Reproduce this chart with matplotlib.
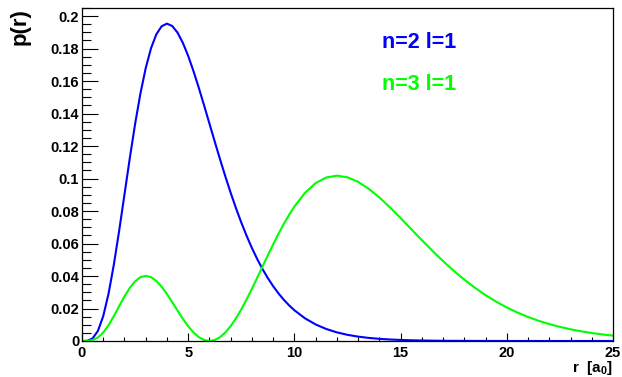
import numpy as np
import matplotlib
matplotlib.use("Agg")
import matplotlib.pyplot as plt
from matplotlib.ticker import MultipleLocator

plt.rcParams['font.family'] = ['Liberation Sans', 'DejaVu Sans']
plt.rcParams['font.weight'] = 'bold'
plt.rcParams['mathtext.fontset'] = 'custom'
plt.rcParams['mathtext.rm'] = 'Liberation Sans:bold'
plt.rcParams['mathtext.bf'] = 'Liberation Sans:bold'

# radius in units of a0 (finer steps where the curves bend most)
r = [0.0, 0.25, 0.5, 0.75, 1.0, 1.25, 1.5, 1.75, 2.0, 2.25, 2.5, 2.75, 3.0, 3.25,
     3.5, 3.75, 4.0, 4.25, 4.5, 4.75, 5.0, 5.25, 5.5, 5.75, 6.0, 6.25, 6.5, 6.75,
     7.0, 7.25, 7.5, 7.75, 8.0, 8.25, 8.5, 8.75, 9.0, 9.25, 9.5, 9.75, 10.0,
     10.5, 11.0, 11.5, 12.0, 12.5, 13.0, 13.5, 14.0, 14.5, 15.0, 15.5, 16.0, 16.5,
     17.0, 17.5, 18.0, 18.5, 19.0, 19.5, 20.0, 20.5, 21.0, 21.5, 22.0, 22.5, 23.0,
     23.5, 24.0, 24.5, 25.0]

p_21 = [0.0, 0.00013, 0.00158, 0.00623, 0.01533, 0.02914, 0.04707, 0.06791, 0.09022,
        0.11255, 0.13360, 0.15234, 0.16803, 0.18025, 0.18881, 0.19378, 0.19537,
        0.19390, 0.18981, 0.18351, 0.17547, 0.16610, 0.15582, 0.14497, 0.13385,
        0.12274, 0.11182, 0.10128, 0.09123, 0.08175, 0.07292, 0.06475, 0.05725,
        0.05043, 0.04426, 0.03870, 0.03374, 0.02932, 0.02540, 0.02195, 0.01892,
        0.01395, 0.01019, 0.00738, 0.00531, 0.00379, 0.00269, 0.00190, 0.00133,
        0.00093, 0.00065, 0.00045, 0.00031, 0.00021, 0.00014, 0.00010, 0.00007,
        0.00005, 0.00003, 0.00002, 0.00001, 0.00001, 0.00001, 0.0, 0.0, 0.0, 0.0,
        0.0, 0.0, 0.0, 0.0]

p_31 = [0.0, 0.00004, 0.00055, 0.00215, 0.00522, 0.00973, 0.01533, 0.02144, 0.02743,
        0.03269, 0.03674, 0.03926, 0.04010, 0.03929, 0.03697, 0.03340, 0.02892,
        0.02389, 0.01867, 0.01363, 0.00906, 0.00525, 0.00238, 0.00060, 0.0,
        0.00060, 0.00238, 0.00527, 0.00918, 0.01397, 0.01950, 0.02561, 0.03215,
        0.03896, 0.04587, 0.05276, 0.05949, 0.06595, 0.07203, 0.07765, 0.08276,
        0.09123, 0.09720, 0.10067, 0.10178, 0.10077, 0.09797, 0.09371, 0.08836,
        0.08225, 0.07567, 0.06887, 0.06209, 0.05547, 0.04916, 0.04323, 0.03775,
        0.03275, 0.02824, 0.02421, 0.02064, 0.01751, 0.01479, 0.01243, 0.01041,
        0.00868, 0.00721, 0.00596, 0.00492, 0.00404, 0.00331]

labels = ["n=2 l=1", "n=3 l=1"]
colors = ["#0000ff", "#00ff00"]

W, H = 622, 377
fig = plt.figure(figsize=(W / 100, H / 100), dpi=100)
ax = fig.add_axes([82 / W, (H - 341) / H, (613 - 82) / W, (341 - 8) / H])

ax.plot(r, p_21, color=colors[0], lw=1.5)
ax.plot(r, p_31, color=colors[1], lw=1.5)

ax.set_xlim(0, 25)
ax.set_ylim(0, 0.205)
ax.xaxis.set_major_locator(MultipleLocator(5))
ax.xaxis.set_minor_locator(MultipleLocator(1))
ax.yaxis.set_major_locator(MultipleLocator(0.02))
ax.yaxis.set_minor_locator(MultipleLocator(0.005))
ax.xaxis.set_major_formatter(plt.FuncFormatter(lambda v, p: "%g" % v))
ax.yaxis.set_major_formatter(plt.FuncFormatter(lambda v, p: "%g" % round(v, 3)))

ax.tick_params(axis='y', which='major', direction='in', length=11.5, width=0.8,
               labelsize=10.5, pad=2)
ax.tick_params(axis='y', which='minor', direction='in', length=6.2, width=0.8)
ax.tick_params(axis='x', which='major', direction='in', length=6, width=0.8,
               labelsize=10.5, pad=3.5)
ax.tick_params(axis='x', which='minor', direction='in', length=3.2, width=0.8)
for s in ax.spines.values():
    s.set_linewidth(0.9)

fig.text(20 / W, 1 - 8 / H, "p(r)", rotation=90, ha='center', va='top', fontsize=16)
fig.text(613 / W, 1 - 377 / H, r"r  [a$_{\mathbf{0}}$]", ha='right', va='bottom', fontsize=11)

fig.text(382 / W, 1 - 42 / H, labels[0], color=colors[0], fontsize=15.5, va='center')
fig.text(382 / W, 1 - 85 / H, labels[1], color=colors[1], fontsize=15.5, va='center')

fig.savefig("out.png", dpi=100)
